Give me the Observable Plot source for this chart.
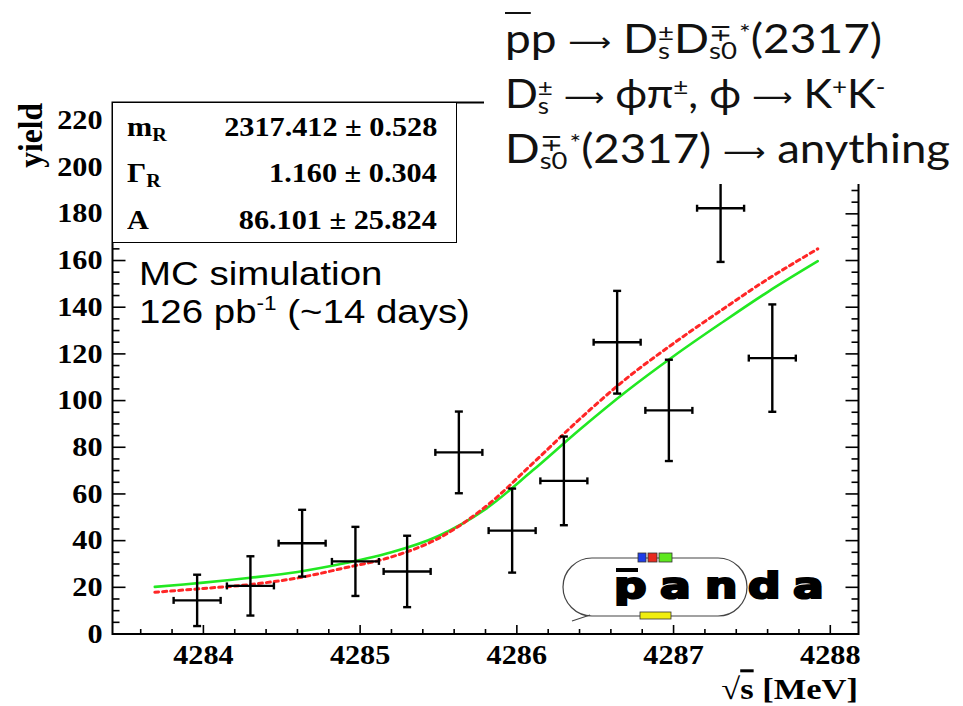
<!DOCTYPE html>
<html><head><meta charset="utf-8">
<script src="https://cdn.jsdelivr.net/npm/d3@7"></script>
<script src="https://cdn.jsdelivr.net/npm/@observablehq/plot@0.6"></script>
<style>
html,body{margin:0;padding:0;background:#fff;}
#wrap{position:relative;width:963px;height:706px;overflow:hidden;background:#fff;}
#wrap svg.plot{position:absolute;left:0;top:0;}
.stats{position:absolute;left:112px;top:102px;width:345px;height:141px;box-sizing:border-box;border:1.5px solid #000;background:#fff;
  font-family:"Liberation Serif","Times New Roman",serif;font-weight:bold;font-size:27px;color:#000;}
.row{position:absolute;left:0;right:0;height:27px;line-height:27px;}
.lab{position:absolute;left:14px;display:inline-block;transform:scaleX(1.12);transform-origin:left center;white-space:nowrap;}
.val{position:absolute;right:19px;display:inline-block;transform:scaleX(1.12);transform-origin:right center;white-space:nowrap;}
.lab sub{font-size:18px;vertical-align:-5px;line-height:0;}
.mc{position:absolute;left:139px;font-family:"Liberation Sans",Arial,sans-serif;font-size:34px;line-height:38px;color:#000;
  transform:scaleX(1.13);transform-origin:left top;white-space:nowrap;}
.mc sup{font-size:20px;vertical-align:13px;line-height:0;}
.rxbg{position:absolute;left:484px;top:0;width:479px;height:184px;background:#fff;}
.rx{position:absolute;left:505px;font-family:Lato,"Open Sans",sans-serif;font-size:40px;line-height:55px;height:55px;color:#111;white-space:nowrap;
  transform-origin:left top;}
.ss{display:inline-flex;flex-direction:column;font-size:24px;line-height:18px;vertical-align:12px;}
.ss span{display:block;}
.arr{font-family:"DejaVu Sans";font-size:26px;vertical-align:2px;}
.pb{text-decoration:overline;text-decoration-thickness:2px;}
.sp{display:inline-block;font-size:24px;vertical-align:13px;line-height:0;}
.logo{position:absolute;left:0;top:0;}
</style>
</head><body>
<div id="wrap"></div>
<script>
// ---------- data ----------
const energy    = [4283.96, 4284.30, 4284.63, 4284.97, 4285.30, 4285.63, 4285.97, 4286.30, 4286.64, 4286.97, 4287.30, 4287.63];
const yieldVals = [14.4, 20.6, 38.9, 31.1, 26.8, 77.8, 44.3, 65.6, 125.0, 95.8, 182.4, 118.2];
const yieldErr  = [11.0, 12.7, 14.3, 14.8, 15.3, 17.5, 18.0, 19.0, 22.0, 21.7, 23.0, 23.0];
const binHalf = 0.15;

const fitX     = [4283.69, 4284.0, 4284.3, 4284.6, 4284.9, 4285.2, 4285.5, 4285.8, 4286.1, 4286.4, 4286.7, 4287.0, 4287.3, 4287.6, 4287.92];
const fitGreen = [20.2, 22.0, 24.1, 26.6, 30.3, 35.0, 42.0, 53.5, 70.0, 87.5, 104.0, 119.0, 133.0, 146.5, 159.7];
const fitRed   = [17.9, 19.5, 21.2, 24.0, 28.3, 33.0, 41.0, 54.5, 73.0, 92.0, 109.5, 124.5, 138.5, 152.0, 165.0];

const xTicks = [4284, 4285, 4286, 4287, 4288];
const yTicks = [0, 20, 40, 60, 80, 100, 120, 140, 160, 180, 200, 220];
const xDomain = [4283.42, 4288.18];
const yDomain = [0, 227.7];

const statNames  = ["m", "Γ", "A"];
const statSubs   = ["R", "R", ""];
const statValues = ["2317.412", "1.160", "86.101"];
const statErrors = ["0.528", "0.304", "25.824"];

// ---------- derived tables ----------
const pts = energy.map((x, i) => ({x, y: yieldVals[i], lo: yieldVals[i] - yieldErr[i], hi: yieldVals[i] + yieldErr[i], xlo: x - binHalf, xhi: x + binHalf}));
const capsV = pts.flatMap(p => [{x: p.x, y: p.lo}, {x: p.x, y: p.hi}]);
const capsH = pts.flatMap(p => [{x: p.xlo, y: p.y}, {x: p.xhi, y: p.y}]);
const fit = fitX.map((x, i) => ({x, g: fitGreen[i], r: fitRed[i]}));

const xMinor = d3.range(4283.6, 4288.1, 0.2).map(v => +v.toFixed(1)).filter(v => !xTicks.includes(v) && v > xDomain[0] && v < xDomain[1]);
const yMinor = d3.range(5, 226, 5).filter(v => v % 20 !== 0);

const seg = (x1, y1, x2, y2) => ({draw(c) { c.moveTo(x1, y1); c.lineTo(x2, y2); }});
const tk = (data, xv, yv, symbol, w = 1.6) => Plot.dot(data, {x: xv, y: yv, r: 1, symbol, fill: "none", stroke: "#000", strokeWidth: w});

const serif = "'Liberation Serif','Times New Roman',serif";

const chart = Plot.plot({
  width: 963, height: 706,
  marginLeft: 112, marginRight: 105, marginTop: 102, marginBottom: 72.5,
  x: {domain: xDomain},
  y: {domain: yDomain},
  style: {background: "transparent", color: "#000", fontFamily: serif},
  marks: [
    Plot.line(fit, {x: "x", y: "g", stroke: "#22e822", strokeWidth: 2.6, curve: "catmull-rom", clip: true}),
    Plot.line(fit, {x: "x", y: "r", stroke: "#ff2626", strokeWidth: 3, strokeDasharray: "4,4", curve: "catmull-rom", clip: true}),
    Plot.ruleX(pts, {x: "x", y1: "lo", y2: "hi", stroke: "#000", strokeWidth: 2.4}),
    Plot.ruleY(pts, {y: "y", x1: "xlo", x2: "xhi", stroke: "#000", strokeWidth: 2.4}),
    Plot.dot(capsV, {x: "x", y: "y", r: 1, symbol: seg(-4, 0, 4, 0), fill: "none", stroke: "#000", strokeWidth: 2.4}),
    Plot.dot(capsH, {x: "x", y: "y", r: 1, symbol: seg(0, -3.5, 0, 3.5), fill: "none", stroke: "#000", strokeWidth: 2.4}),
    // ROOT style inward ticks on all four sides
    tk(xTicks, d => d, yDomain[0], seg(0, 0, 0, -9)),
    tk(xMinor, d => d, yDomain[0], seg(0, 0, 0, -5)),
    tk(xTicks, d => d, yDomain[1], seg(0, 0, 0, 9)),
    tk(xMinor, d => d, yDomain[1], seg(0, 0, 0, 5)),
    tk(yTicks, xDomain[0], d => d, seg(0, 0, 13, 0)),
    tk(yMinor, xDomain[0], d => d, seg(0, 0, 7, 0)),
    tk(yTicks, xDomain[1], d => d, seg(0, 0, -13, 0)),
    tk(yMinor, xDomain[1], d => d, seg(0, 0, -7, 0)),
    Plot.frame({stroke: "#000", strokeWidth: 2}),
    Plot.axisX(xTicks, {tickSize: 0, tickPadding: 11, fontSize: 27, fontWeight: "bold", fontFamily: serif, label: null, tickFormat: d => String(d)}),
    Plot.axisY(yTicks, {tickSize: 0, tickPadding: 10, fontSize: 27, fontWeight: "bold", fontFamily: serif, label: null})
  ]
});
chart.classList.add("plot");
// horizontally widen tick labels (the reference typeface is wide)
chart.querySelectorAll('g[aria-label$="tick label"] text').forEach(t => {
  const tr = t.getAttribute("transform") || "";
  t.setAttribute("transform", tr + " scale(1.12,1)");
});
const svg = d3.select(chart);
svg.append("text").attr("transform", "translate(42,103) rotate(-90) scale(1.05,1.12)")
  .attr("text-anchor", "end").attr("font-family", serif).attr("font-weight", "bold").attr("font-size", 30).text("yield");
const xl = svg.append("text").attr("transform", "translate(858,699) scale(1.15,1)")
  .attr("text-anchor", "end").attr("font-family", serif).attr("font-weight", "bold").attr("font-size", 30);
xl.append("tspan").text("√");
xl.append("tspan").attr("text-decoration", "overline").text("s");
xl.append("tspan").text(" [MeV]");

const wrap = document.getElementById("wrap");
wrap.appendChild(chart);

// stats box
const stats = document.createElement("div");
stats.className = "stats";
const rowTops = [11, 57, 104];
statNames.forEach((n, i) => {
  const row = document.createElement("div");
  row.className = "row";
  row.style.top = rowTops[i] + "px";
  row.innerHTML = `<span class="lab">${n}${statSubs[i] ? `<sub>${statSubs[i]}</sub>` : ""}</span><span class="val">${statValues[i]} ± ${statErrors[i]}</span>`;
  stats.appendChild(row);
});
wrap.appendChild(stats);

// MC annotation
const mc1 = document.createElement("div"); mc1.className = "mc"; mc1.style.top = "254px"; mc1.textContent = "MC simulation";
const mc2 = document.createElement("div"); mc2.className = "mc"; mc2.style.top = "292px"; mc2.innerHTML = "126 pb<sup>-1</sup> (~14 days)";
wrap.appendChild(mc1); wrap.appendChild(mc2);

// reaction text block
const bg = document.createElement("div"); bg.className = "rxbg"; wrap.appendChild(bg);
const ss = (sup, sub) => `<span class="ss"><span>${sup}</span><span>${sub}</span></span>`;
const lines = [
  `<span class="pb">p</span>p <span class="arr">⟶</span> D${ss("±", "s")}D${ss("∓ *", "s0")}(2317)`,
  `D${ss("±", "s")} <span class="arr">⟶</span> ϕπ<span class="sp">±</span>, ϕ <span class="arr">⟶</span> K<span class="sp">+</span>K<span class="sp">-</span>`,
  `D${ss("∓ *", "s0")}(2317) <span class="arr">⟶</span> anything`
];
const lineStretch = [1.15, 1.08, 1.14];
lines.forEach((h, i) => {
  const d = document.createElement("div"); d.className = "rx"; d.style.top = (11 + 55 * i) + "px";
  d.style.transform = `scaleX(${lineStretch[i]})`; d.innerHTML = h; wrap.appendChild(d);
});

// PANDA logo
const logo = d3.select(wrap).append("svg").attr("class", "logo").attr("width", 963).attr("height", 706)
  .style("position", "absolute").style("left", 0).style("top", 0).style("pointer-events", "none");
logo.append("rect").attr("x", 563).attr("y", 558).attr("width", 184).attr("height", 58).attr("rx", 29)
  .attr("fill", "none").attr("stroke", "#444").attr("stroke-width", 1.2);
logo.append("path").attr("d", "M572,621 L590,615").attr("stroke", "#444").attr("stroke-width", 1.2);
[["#1f3de8", 638, 8], ["#e82a1f", 648, 9], ["#5ee81f", 659, 13]].forEach(([c, x, w]) =>
  logo.append("rect").attr("x", x).attr("y", 553).attr("width", w).attr("height", 9).attr("fill", c).attr("stroke", "#333").attr("stroke-width", 0.8));
logo.append("rect").attr("x", 640).attr("y", 612).attr("width", 31).attr("height", 7).attr("fill", "#f0ee10").attr("stroke", "#333").attr("stroke-width", 0.8);
logo.append("rect").attr("x", 616).attr("y", 568).attr("width", 22).attr("height", 4).attr("fill", "#000");
[["p", 614], ["a", 660], ["n", 705], ["d", 748], ["a", 793]].forEach(([ch, x]) =>
  logo.append("text").attr("transform", `translate(${x},598) scale(1.3,1)`).attr("font-family", "DejaVu Sans").attr("font-weight", "bold")
    .attr("font-size", 35).attr("fill", "#000").attr("stroke", "#000").attr("stroke-width", 2.2).attr("stroke-linejoin", "miter").text(ch));
</script>
</body></html>
